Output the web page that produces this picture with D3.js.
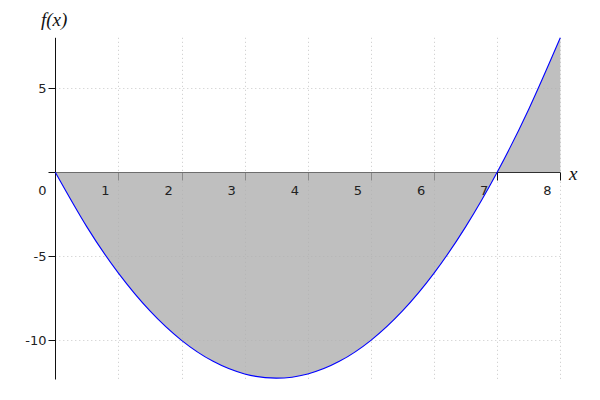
<!DOCTYPE html>
<html>
<head>
<meta charset="utf-8">
<script src="https://cdn.jsdelivr.net/npm/d3@7"></script>
<style>
  body { margin: 0; background: #fff; }
  svg { display: block; }
</style>
</head>
<body>
<svg id="chart" width="600" height="400"></svg>
<script>
const xValues = [0, 0.5, 1, 1.5, 2, 2.5, 3, 3.5, 4, 4.5, 5, 5.5, 6, 6.5, 7, 7.5, 8];
const fValues = [0, -3.25, -6, -8.25, -10, -11.25, -12, -12.25, -12, -11.25, -10, -8.25, -6, -3.25, 0, 3.75, 8];
const xTicks = [1, 2, 3, 4, 5, 6, 7, 8];
const yTicks = [5, -5, -10];
const xLabel = "x";
const yLabel = "f(x)";

const data = xValues.map((x, i) => ({ x, y: fValues[i] }));

const svg = d3.select("#chart");
const x = d3.scaleLinear().domain([0, 8]).range([55.3, 560.3]);
const y = d3.scaleLinear().domain([-12.3, 8]).range([379, 37.8]);

const font = "'DejaVu Sans', sans-serif";
const serif = "Liberation Serif";

// grid
const grid = svg.append("g").attr("stroke", "#c8c8c8").attr("stroke-width", 1)
  .attr("stroke-dasharray", "1,3");
grid.selectAll("line.v").data(xTicks).join("line")
  .attr("x1", d => Math.round(x(d)) + 0.5).attr("x2", d => Math.round(x(d)) + 0.5)
  .attr("y1", y(8)).attr("y2", 379.5);
grid.selectAll("line.h").data(yTicks).join("line")
  .attr("y1", d => Math.round(y(d)) + 0.5).attr("y2", d => Math.round(y(d)) + 0.5)
  .attr("x1", x(0)).attr("x2", x(8));

// axes
const axisColor = "#111";
const x0 = Math.round(x(0)) + 0.5;
const y0 = Math.round(y(0)) + 0.5;
const ax = svg.append("g").attr("stroke", axisColor).attr("stroke-width", 1);
ax.append("line").attr("x1", x0).attr("x2", x(8)).attr("y1", y0).attr("y2", y0);
ax.append("line").attr("x1", x0).attr("x2", x0).attr("y1", y(8)).attr("y2", 379.5);
// x ticks
ax.selectAll("line.xt").data(xTicks).join("line")
  .attr("x1", d => Math.round(x(d)) + 0.5).attr("x2", d => Math.round(x(d)) + 0.5)
  .attr("y1", y0).attr("y2", y0 + 8);
// y ticks (including 0)
ax.selectAll("line.yt").data([0].concat(yTicks)).join("line")
  .attr("y1", d => Math.round(y(d)) + 0.5).attr("y2", d => Math.round(y(d)) + 0.5)
  .attr("x1", x0 - 7).attr("x2", x0);

// fill area (semi-transparent so the axis shows through as grey)
const area = d3.area().x(d => x(d.x)).y0(y(0)).y1(d => y(d.y)).curve(d3.curveNatural);
svg.append("path").datum(data).attr("d", area)
  .attr("fill", "rgb(173,173,173)").attr("fill-opacity", 0.784);

// curve
const line = d3.line().x(d => x(d.x)).y(d => y(d.y)).curve(d3.curveNatural);
svg.append("path").datum(data).attr("d", line)
  .attr("fill", "none").attr("stroke", "#0000ff").attr("stroke-width", 1.1);

// tick labels
const lbl = svg.append("g").attr("font-family", font).attr("font-size", 13).attr("fill", "#222");
lbl.selectAll("text.xl").data([0].concat(xTicks)).join("text")
  .attr("x", d => x(d) - 13).attr("y", y(0) + 23)
  .attr("text-anchor", "middle").text(d => d);
lbl.selectAll("text.yl").data(yTicks).join("text")
  .attr("x", x0 - 9).attr("y", d => y(d) + 5)
  .attr("text-anchor", "end").text(d => d);

// axis labels
svg.append("text").attr("x", 41).attr("y", 26)
  .style("font-family", serif).style("font-style", "italic")
  .style("font-size", "19px").attr("fill", "#111").text(yLabel);
svg.append("text").attr("x", 569).attr("y", 180)
  .style("font-family", serif).style("font-style", "italic")
  .style("font-size", "19px").attr("fill", "#111").text(xLabel);
</script>
</body>
</html>
